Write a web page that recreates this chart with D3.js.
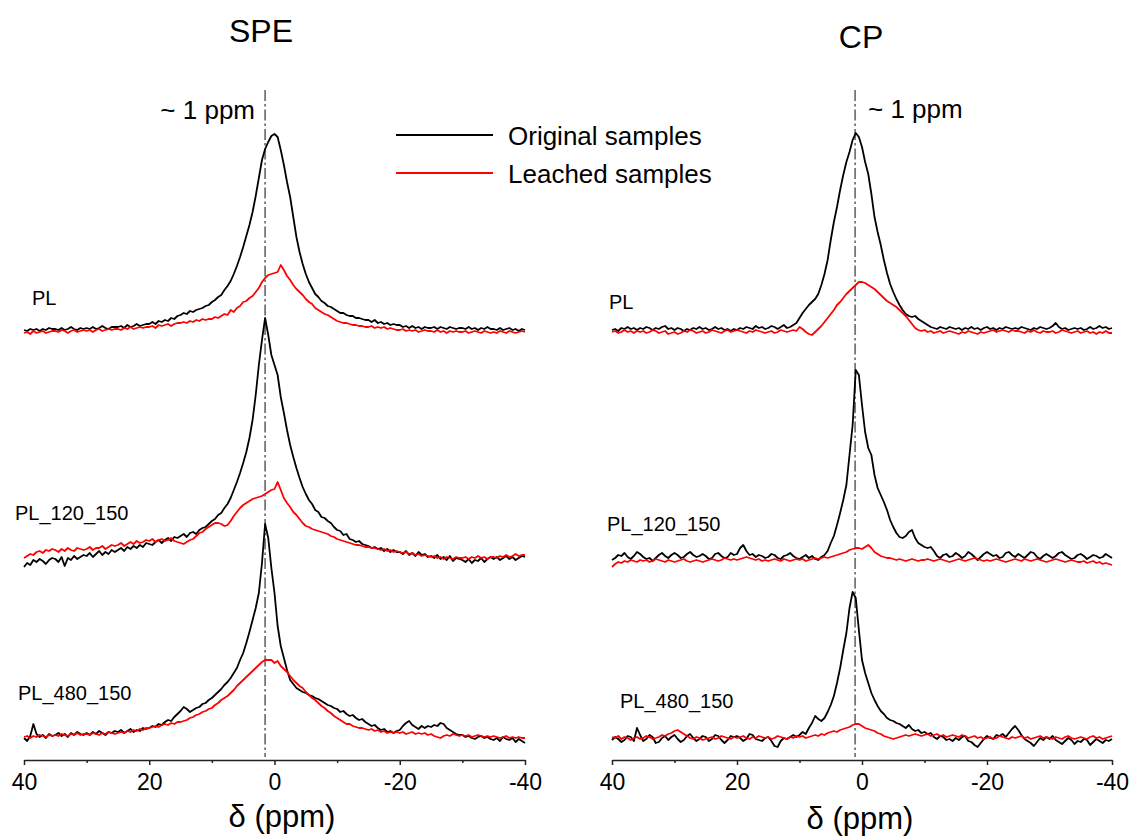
<!DOCTYPE html>
<html><head><meta charset="utf-8">
<script src="https://cdn.jsdelivr.net/npm/d3@7"></script>
<style>
body{margin:0;background:#fff}
svg{display:block}
text{font-family:"Liberation Sans",Arial,Helvetica,sans-serif;fill:#000}
</style>
</head><body>
<svg id="chart" width="1131" height="836"></svg>
<script>
// ---------- DATA ----------
// chemical shift grid (ppm), 40 -> -40 in 0.5 ppm steps
const ppm = d3.range(0, 161).map(i => 40 - i * 0.5);
const sampleNames = ["PL", "PL_120_150", "PL_480_150"];
const stackOffsets = [428, 200, 22];           // vertical stacking offset (a.u.)
const xTickValues = [40, 20, 0, -20, -40];
const xMinorTicks = [30, 10, -10, -30];
const refShift = { SPE: 1.5, CP: 1.1 };        // position of the "~1 ppm" marker
const seriesNames = ["Original samples", "Leached samples"];

// SPE spectra (intensity, a.u.)
const spe_PL_orig = [2,1,3,2,3,1,3,2,4,3, 3,2,4,2,3,5,3,2,4,3, 4,3,5,3,4,6,4,3,5,5, 5,6,4,7,5,6,8,6,7,8,
  8,10,8,11,10,12,11,14,13,16, 17,19,18,21,20,22,23,24,26,27, 30,32,35,37,42,46,51,58,66,75,
  85,96,107,120,136,154,172,183,190,196, 198,195,182,167,150,135,115,95,80,68,
  58,50,44,38,35,31,29,26,25,23, 21,19,19,17,16,16,14,14,13,12, 12,10,12,9,10,8,9,7,8,7,
  7,5,6,4,6,4,5,3,5,4, 4,5,3,5,4,3,5,4,3,4, 4,3,5,3,4,2,4,3,5,3, 3,2,4,2,3,4,2,3,1,3, 2];
const spe_PL_leach = [-1,0,-2,1,-1,0,1,-1,0,1, 1,0,2,1,-1,1,2,0,1,2, 1,2,0,2,3,1,2,3,2,3, 3,2,4,3,5,3,4,5,4,5,
  5,6,4,7,6,7,8,6,8,9, 9,10,9,11,10,12,11,13,12,13, 13,15,14,16,18,17,22,20,24,26,
  30,31,34,36,40,44,50,54,57,58, 59,60,67,62,56,52,47,43,40,37,
  33,30,28,24,22,20,18,17,15,13, 11,10,9,9,8,7,7,6,6,5, 5,6,4,5,4,5,3,4,3,2,
  2,3,1,2,1,2,0,1,2,1, 1,0,2,0,1,-1,1,0,1,0, 0,1,-1,0,1,0,-1,1,0,-1, 0,-1,1,0,-1,1,0,-1,0,1, 0];
const spe_120_orig = [-7,-3,-5,0,-2,1,-1,-4,0,2, 1,-2,3,-6,2,0,4,1,3,5, 4,7,3,6,9,5,8,6,10,8, 10,12,9,13,11,14,12,15,13,17,
  16,15,18,20,17,20,22,19,23,22, 24,26,23,27,28,26,30,32,33,36, 39,41,45,47,52,56,62,70,78,87,
  97,108,122,140,165,195,220,242,225,205, 195,185,163,147,130,115,103,92,82,73,
  66,60,56,50,48,43,42,39,37,33, 30,29,25,26,21,20,18,19,16,15, 14,12,13,11,12,9,11,8,10,8,
  8,6,9,5,7,4,8,5,6,3, 4,2,5,1,3,0,4,-1,2,1, 0,-2,1,-3,0,-1,2,-2,1,3, 1,3,0,2,4,1,3,0,2,4, 3];
const spe_120_leach = [2,4,6,5,8,9,7,10,9,11, 10,8,11,9,12,10,9,12,11,10, 11,13,10,12,12,14,11,13,15,14, 15,17,14,16,18,16,19,17,18,20,
  19,21,18,20,21,19,20,22,19,18, 17,16,18,20,21,24,27,28,31,33, 35,37,37,36,34,35,39,44,48,52,
  55,57,59,61,62,63,64,66,68,70, 71,78,70,62,57,53,48,45,41,37,
  34,33,31,30,29,28,27,26,24,23, 21,20,19,18,17,16,15,15,14,13, 13,12,12,11,10,11,9,10,8,9,
  8,7,8,6,7,5,6,4,5,4, 3,4,2,3,1,3,2,1,3,2, 2,3,1,3,2,4,2,3,1,3, 3,2,4,3,5,3,4,6,4,5, 5];
const spe_480_orig = [0,-3,2,14,4,1,3,0,4,2, 3,5,2,4,1,5,3,6,4,3, 5,3,6,4,7,5,3,6,5,7, 6,8,5,7,9,6,8,7,10,9,
  10,12,11,14,13,16,18,17,21,24, 27,31,29,26,28,30,31,34,35,38, 40,43,46,49,53,56,60,65,70,78,
  85,95,106,118,130,145,175,214,200,170, 145,112,92,80,68,58,54,50,48,46,
  45,43,42,40,39,37,35,33,32,30, 29,26,27,24,22,23,20,18,19,16, 14,12,13,10,8,9,6,7,5,7,
  8,12,15,17,13,11,9,12,10,12, 11,13,12,15,14,10,8,6,4,3, 3,1,2,0,-1,1,2,0,1,-1, -2,0,-3,1,-1,-2,0,-4,-1,-3, -5];
const spe_480_leach = [1,2,0,2,1,3,2,1,3,2, 3,2,4,3,2,4,3,5,3,4, 4,3,5,4,3,5,4,6,5,4, 5,6,5,7,6,8,7,9,8,10,
  10,11,12,11,13,14,13,15,14,16, 16,17,18,20,21,23,24,26,27,29, 30,33,35,38,40,42,45,48,52,55,
  58,61,64,67,70,73,76,78,78,78, 75,77,72,69,66,62,58,55,52,50,
  46,43,40,38,35,32,30,27,25,22, 20,18,16,14,14,12,11,10,10,9, 8,9,7,8,6,7,5,6,5,6,
  5,6,4,5,6,4,5,4,5,3, 4,2,1,0,2,3,2,4,3,2, 3,2,3,1,2,3,2,1,2,1, 2,1,0,1,2,0,1,0,1,0, 0];

// CP spectra (intensity, a.u.)
const cp_PL_orig = [2,3,1,4,3,5,3,4,2,4, 3,5,4,2,4,3,5,6,3,4, 2,4,3,1,3,2,4,3,5,3, 4,2,3,5,3,4,2,3,1,3,
  2,4,3,5,4,3,6,4,5,3, 4,6,5,3,5,7,4,5,7,9, 14,19,23,27,30,33,38,47,58,72,
  92,110,125,142,157,170,180,192,199,195, 185,170,158,138,115,100,87,72,59,48,
  40,33,27,22,18,16,15,16,13,11, 9,7,5,4,3,5,4,3,5,4, 3,4,2,4,3,5,3,4,2,4,
  5,3,4,2,4,3,5,4,3,4, 3,5,4,3,2,4,3,5,4,3, 4,6,9,5,3,4,2,3,4,3, 4,2,3,5,3,4,6,4,5,3, 4];
const cp_PL_leach = [0,1,-1,0,2,0,1,-1,1,0, 1,-1,0,2,1,-1,0,1,-2,-1, 0,-2,-1,1,0,2,1,-1,0,1, -1,0,2,1,0,-1,1,2,0,1,
  2,1,0,-1,1,0,2,1,0,-1, 0,1,-1,0,2,1,0,1,2,1, 5,3,0,-2,-3,0,3,6,10,14,
  18,22,27,30,34,38,41,44,47,50, 50,49,47,45,43,40,37,34,31,29,
  27,25,22,19,16,12,8,4,2,1, 2,0,1,-1,0,1,-1,0,1,0, -1,-2,0,-1,1,0,-1,-2,0,-1,
  0,1,2,0,1,2,1,0,2,1, 1,0,-1,1,0,2,0,-1,1,0, 0,1,-1,0,2,1,0,-1,0,1, -1,0,1,-1,0,-2,0,-1,1,-1, -1];
const cp_120_orig = [0,2,5,4,7,3,1,4,8,6, 3,1,2,-1,2,5,7,4,2,5, 7,5,2,3,6,8,5,3,4,6, 4,1,2,6,7,4,2,3,7,5,
  6,12,15,9,5,6,3,5,4,2, 3,6,5,2,1,4,5,7,4,2, 1,3,5,2,4,1,0,3,5,9,
  17,24,35,47,60,75,105,135,190,185, 155,128,112,105,85,72,65,58,50,40,
  33,27,23,22,24,28,30,22,17,15, 13,12,13,9,4,2,5,6,3,4, 7,5,2,4,8,6,3,0,3,6,
  8,6,4,5,2,3,7,8,5,3, 6,4,2,5,8,7,3,1,4,6, 4,2,4,7,8,5,3,1,2,5, 6,4,1,3,5,4,2,3,6,4, 2];
const cp_120_leach = [-7,-4,-2,-3,-1,-2,0,-1,-2,0, -1,0,-2,-1,1,0,-1,-2,0,-1, -2,-1,0,1,-1,-2,-1,0,-1,-2, -1,0,1,0,-1,0,2,1,0,1,
  0,1,2,3,2,1,0,1,-1,0, -1,0,1,0,-1,1,0,-1,0,1, 0,1,-1,0,1,2,1,2,3,2,
  3,4,5,6,7,8,10,11,12,12, 11,13,15,12,8,6,4,3,2,2,
  1,0,1,0,-1,0,1,0,-1,0, 0,1,0,-1,0,1,0,-1,-2,-1, 0,1,0,-1,0,1,2,1,0,-1,
  0,-1,0,1,0,-1,-2,-1,0,1, 0,-1,1,0,-1,0,1,0,-1,-2, -1,0,1,0,-1,-2,-1,0,-1,-2, -2,-1,-3,-2,-1,-3,-2,-4,-3,-4, -5];
const cp_480_orig = [-2,1,-1,-4,-2,2,1,-3,10,3, -3,-1,3,1,-5,-4,0,2,-2,1, 3,-1,-4,-2,2,4,0,-3,-1,2, 1,-3,-1,3,2,-2,-5,-2,2,1,
  2,0,-3,-1,4,3,-1,-2,-3,0, 1,-3,-8,-9,-3,0,-1,1,3,1, 3,6,4,10,15,22,19,17,20,26,
  33,42,55,70,88,105,130,146,140,108, 78,65,55,45,38,32,27,24,20,18,
  17,15,14,12,10,13,9,7,8,5, 6,4,5,1,-1,2,1,-2,-1,-3, 0,-2,1,2,-3,-4,-7,-9,-5,-1,
  2,0,-1,3,2,4,1,5,9,12, 8,3,-1,-3,-5,-8,-4,0,-2,1, -1,2,-2,-4,-6,-3,0,-2,-6,-3, -4,-1,-2,-7,-4,-1,-3,-5,-2,-3, -1];
const cp_480_leach = [1,0,2,-1,1,0,-2,0,1,-1, 0,2,1,-1,0,1,3,2,4,5, 7,8,6,4,2,0,-1,1,0,-2, -1,0,1,-1,0,2,1,0,-1,1,
  0,1,2,0,-1,1,0,2,1,0, 1,-1,0,2,1,0,-1,1,0,2, 1,2,0,1,2,3,2,4,3,5,
  6,7,6,8,9,10,11,13,14,14, 12,10,9,8,7,5,4,2,1,0,
  -1,0,1,2,3,2,3,4,3,2, 3,4,2,3,4,2,3,1,2,3, 2,1,3,2,0,1,2,0,1,-1,
  0,1,-1,0,2,1,0,-1,1,0, 1,2,0,1,-1,0,1,2,0,1, 0,-1,1,0,-1,1,2,0,-1,0, 1,0,-1,1,2,0,1,-1,0,1, 2];

// ---------- LAYOUT ----------
const svg = d3.select("#chart");
const yScale = d3.scaleLinear().domain([0, 700]).range([760, 60]);
const colors = ["#000000", "#ff0000"];

const panels = [
  { title: "SPE", key: "SPE", range: [24, 525], titleX: 261, titleY: 42, labelX: 282, labelY: 827,
    series: [[spe_PL_orig, spe_PL_leach], [spe_120_orig, spe_120_leach], [spe_480_orig, spe_480_leach]],
    sampleLabelPos: [[32, 305], [15, 520], [18, 700]],
    markText: { x: 255, y: 119, anchor: "end" } },
  { title: "CP", key: "CP", range: [612, 1112], titleX: 861, titleY: 48, labelX: 860, labelY: 829,
    series: [[cp_PL_orig, cp_PL_leach], [cp_120_orig, cp_120_leach], [cp_480_orig, cp_480_leach]],
    sampleLabelPos: [[609, 309], [607, 531], [620, 708]],
    markText: { x: 868, y: 118, anchor: "start" } }
];

panels.forEach(p => {
  const x = d3.scaleLinear().domain([40, -40]).range(p.range);
  const g = svg.append("g");

  // reference marker (dash-dot line)
  g.append("line")
    .attr("x1", x(refShift[p.key])).attr("x2", x(refShift[p.key]))
    .attr("y1", 90).attr("y2", 757)
    .attr("stroke", "#777").attr("stroke-width", 1.8)
    .attr("stroke-dasharray", "11,3,2.5,3");

  // spectra
  p.series.forEach((pair, si) => {
    pair.forEach((vals, ci) => {
      const line = d3.line()
        .x((d, i) => x(ppm[i]))
        .y(d => yScale(d + stackOffsets[si]));
      g.append("path")
        .datum(vals)
        .attr("d", line)
        .attr("fill", "none")
        .attr("stroke", colors[ci])
        .attr("stroke-width", 1.8)
        .attr("stroke-linejoin", "round");
    });
    g.append("text")
      .attr("x", p.sampleLabelPos[si][0]).attr("y", p.sampleLabelPos[si][1])
      .attr("font-size", 20)
      .text(sampleNames[si]);
  });

  // axes
  const axis = d3.axisBottom(x).tickValues(xTickValues).tickSize(5).tickSizeOuter(0).tickPadding(9)
    .tickFormat(d => String(d));
  const ag = g.append("g").attr("transform", "translate(0,760)").call(axis);
  ag.select(".domain").attr("stroke", "#222").attr("stroke-width", 1.5);
  ag.selectAll(".tick line").attr("stroke", "#222").attr("stroke-width", 1.5);
  ag.selectAll(".tick text").attr("font-size", 23).attr("font-family", "Liberation Sans, Arial, sans-serif").attr("fill", "#000");
  const mg = g.append("g").attr("transform", "translate(0,760)")
    .call(d3.axisBottom(x).tickValues(xMinorTicks).tickSize(3).tickSizeOuter(0).tickFormat(""));
  mg.select(".domain").remove();
  mg.selectAll(".tick line").attr("stroke", "#222").attr("stroke-width", 1.5);

  // titles & labels
  g.append("text").attr("x", p.titleX).attr("y", p.titleY).attr("text-anchor", "middle")
    .attr("font-size", 32).text(p.title);
  g.append("text").attr("x", p.labelX).attr("y", p.labelY).attr("text-anchor", "middle")
    .attr("font-size", 31).text("δ (ppm)");
  g.append("text").attr("x", p.markText.x).attr("y", p.markText.y).attr("text-anchor", p.markText.anchor)
    .attr("font-size", 26).text("~ 1 ppm");
});

// legend
const lg = svg.append("g");
seriesNames.forEach((name, i) => {
  const yy = 135 + i * 38;
  lg.append("line").attr("x1", 396).attr("x2", 493).attr("y1", yy).attr("y2", yy)
    .attr("stroke", colors[i]).attr("stroke-width", 2);
  lg.append("text").attr("x", 508).attr("y", yy + 10).attr("font-size", 26).text(name);
});
</script>
</body></html>
